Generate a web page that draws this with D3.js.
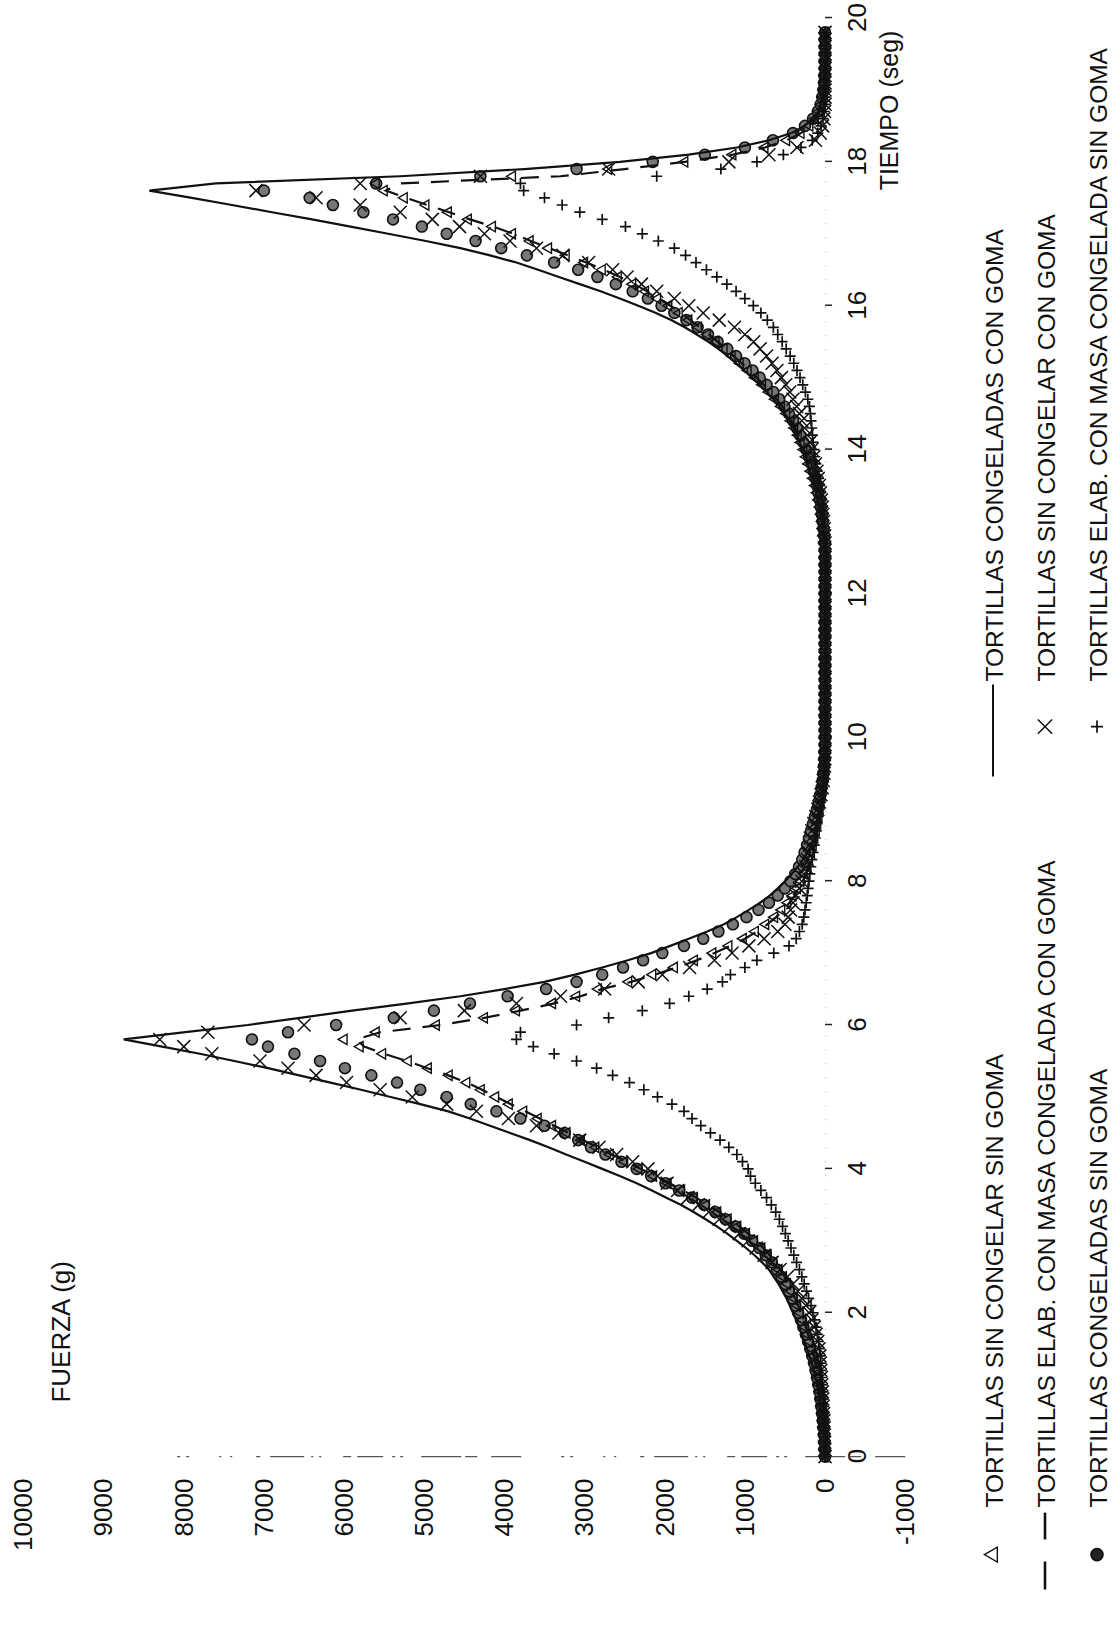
<!DOCTYPE html>
<html>
<head>
<meta charset="utf-8">
<title>Fuerza vs tiempo</title>
<script src="https://cdn.jsdelivr.net/npm/d3@7/dist/d3.min.js"></script>
<style>
  body { margin: 0; background: #fff; }
  svg { display: block; font-family: "Liberation Sans", Arial, sans-serif; }
  text { fill: #111; }
</style>
</head>
<body>
<div id="chart"></div>
<script>
// one reading every 0.1 s, 0 .. 19.8 s
var tiempo = d3.range(199).map(function(i) { return i / 10; });
var tiempoTicks = [0, 2, 4, 6, 8, 10, 12, 14, 16, 18, 20];
var fuerzaTicks = [-1000, 0, 1000, 2000, 3000, 4000, 5000, 6000, 7000, 8000, 9000, 10000];

// solid line
var congeladasConGoma = [
  0, 4, 8, 15, 25, 35, 45, 57, 70, 85,
  100, 120, 140, 165, 195, 225, 260, 290, 325, 360,
  400, 440, 480, 530, 580, 640, 700, 785, 880, 985,
  1100, 1220, 1350, 1490, 1640, 1800, 1980, 2160, 2350, 2560,
  2780, 3000, 3230, 3450, 3680, 3930, 4180, 4430, 4700, 5050,
  5420, 5790, 6170, 6560, 6950, 7370, 7800, 8270, 8750, 7980,
  7200, 6550, 5900, 5200, 4550, 4000, 3500, 3120, 2780, 2460,
  2170, 1930, 1700, 1470, 1260, 1100, 950, 810, 690, 590,
  500, 415, 340, 275, 220, 170, 130, 100, 80, 65,
  50, 40, 30, 25, 20, 15, 10, 8, 5, 3,
  0, 0, 0, 0, 0, 0, 0, 0, 0, 0,
  0, 0, 0, 0, 0, 0, 0, 0, 0, 0,
  0, 0, 0, 0, 0, 0, 0, 10, 20, 30,
  40, 55, 70, 90, 110, 135, 160, 185, 215, 245,
  280, 315, 350, 395, 440, 500, 570, 645, 730, 815,
  910, 1010, 1110, 1215, 1330, 1460, 1600, 1750, 1920, 2110,
  2330, 2560, 2800, 3060, 3320, 3580, 3850, 4180, 4550, 4980,
  5450, 5920, 6400, 6900, 7400, 7900, 8430, 7600, 5300, 3750,
  2560, 1700, 1100, 700, 420, 260, 150, 90, 55, 35,
  20, 15, 10, 5, 0, 0, 0, 0, 0
];

// dashed line
var elabConMasaCongeladaConGoma = [
  0, 3, 6, 10, 16, 23, 31, 40, 50, 61,
  73, 87, 103, 121, 141, 163, 187, 213, 240, 270,
  302, 336, 373, 413, 457, 505, 560, 622, 692, 770,
  860, 960, 1070, 1190, 1320, 1460, 1610, 1770, 1940, 2120,
  2300, 2480, 2660, 2840, 3020, 3200, 3380, 3560, 3740, 3920,
  4100, 4280, 4470, 4700, 4960, 5220, 5500, 5750, 5850, 5550,
  4800, 4250, 3800, 3380, 3050, 2780, 2420, 2120, 1850, 1600,
  1380, 1180, 1000, 850, 720, 610, 520, 445, 380, 325,
  280, 240, 205, 175, 150, 128, 108, 90, 74, 60,
  48, 37, 27, 19, 12, 7, 3, 1, 0, 0,
  0, 0, 0, 0, 0, 0, 0, 0, 0, 0,
  0, 0, 0, 0, 0, 0, 0, 0, 0, 0,
  0, 0, 0, 0, 0, 0, 0, 8, 16, 24,
  33, 45, 59, 76, 96, 118, 143, 170, 200, 230,
  260, 294, 330, 372, 418, 470, 533, 605, 685, 765,
  850, 940, 1040, 1140, 1240, 1340, 1450, 1560, 1680, 1800,
  1930, 2070, 2220, 2380, 2560, 2760, 2980, 3210, 3440, 3670,
  3890, 4140, 4430, 4690, 4960, 5230, 5480, 5300, 3300, 2500,
  1750, 1150, 750, 480, 300, 185, 115, 70, 40, 24,
  13, 6, 2, 0, 0, 0, 0, 0, 0
];

// triangles
var sinCongelarSinGoma = [
  0, 3, 6, 11, 17, 24, 32, 41, 51, 62,
  75, 90, 107, 126, 147, 170, 195, 222, 250, 280,
  312, 347, 385, 425, 470, 520, 575, 640, 710, 790,
  880, 980, 1090, 1210, 1340, 1480, 1630, 1790, 1960, 2140,
  2320, 2500, 2680, 2860, 3040, 3220, 3400, 3580, 3760, 3940,
  4110, 4290, 4470, 4690, 4950, 5200, 5520, 5800, 6000, 5600,
  4850, 4250, 3850, 3400, 3100, 2830, 2450, 2150, 1880, 1630,
  1400, 1200, 1020, 870, 740, 630, 540, 465, 400, 345,
  300, 260, 225, 195, 170, 148, 128, 110, 92, 76,
  62, 50, 38, 28, 20, 13, 8, 4, 1, 0,
  0, 0, 0, 0, 0, 0, 0, 0, 0, 0,
  0, 0, 0, 0, 0, 0, 0, 0, 0, 0,
  0, 0, 0, 0, 0, 0, 0, 10, 18, 26,
  35, 48, 62, 80, 100, 122, 148, 175, 205, 235,
  265, 300, 335, 380, 425, 480, 545, 620, 700, 780,
  870, 960, 1060, 1160, 1260, 1360, 1470, 1580, 1700, 1820,
  1950, 2090, 2240, 2400, 2580, 2780, 3000, 3230, 3450, 3680,
  3900, 4150, 4450, 4700, 4980, 5250, 5500, 5600, 3900, 2700,
  1750, 1150, 750, 480, 300, 190, 120, 75, 45, 27,
  15, 8, 3, 0, 0, 0, 0, 0, 0
];

// circles
var congeladasSinGoma = [
  0, 3, 7, 12, 20, 28, 37, 47, 58, 70,
  85, 100, 118, 138, 160, 185, 212, 240, 270, 300,
  335, 370, 410, 450, 495, 545, 600, 665, 740, 820,
  910, 1010, 1120, 1240, 1370, 1510, 1660, 1820, 1990, 2170,
  2350, 2540, 2740, 2920, 3080, 3250, 3500, 3800, 4100, 4420,
  4720, 5050, 5340, 5660, 5990, 6300, 6620, 6950, 7150, 6700,
  6100, 5380, 4880, 4430, 3960, 3480, 3100, 2780, 2520, 2270,
  2030, 1760, 1520, 1330, 1150, 980, 830, 700, 590, 500,
  430, 370, 325, 285, 255, 225, 200, 175, 150, 125,
  100, 80, 60, 45, 30, 20, 12, 6, 2, 0,
  0, 0, 0, 0, 0, 0, 0, 0, 0, 0,
  0, 0, 0, 0, 0, 0, 0, 0, 0, 0,
  0, 0, 0, 0, 0, 0, 0, 0, 10, 20,
  30, 40, 52, 66, 82, 100, 120, 143, 168, 200,
  235, 270, 310, 352, 398, 450, 508, 572, 645, 730,
  815, 905, 1005, 1110, 1220, 1340, 1460, 1590, 1730, 1880,
  2040, 2210, 2400, 2610, 2840, 3080, 3380, 3720, 4040, 4360,
  4720, 5030, 5390, 5760, 6140, 6430, 7000, 5600, 4300, 3100,
  2150, 1500, 1000, 650, 400, 250, 150, 90, 55, 35,
  20, 12, 6, 0, 0, 0, 0, 0, 0
];

// crosses (x)
var sinCongelarConGoma = [
  0, 2, 4, 7, 10, 14, 18, 23, 28, 34,
  40, 46, 52, 58, 64, 75, 90, 110, 135, 165,
  200, 240, 290, 340, 400, 470, 560, 660, 760, 860,
  960, 1070, 1190, 1320, 1450, 1580, 1710, 1840, 1970, 2090,
  2210, 2400, 2600, 2820, 3060, 3320, 3600, 3950, 4350, 4720,
  5150, 5550, 5970, 6350, 6700, 7050, 7650, 8000, 8300, 7700,
  6500, 5300, 4500, 3850, 3300, 2750, 2330, 2030, 1690, 1380,
  1160, 950, 760, 590, 500, 460, 430, 400, 360, 320,
  290, 265, 240, 220, 205, 195, 185, 165, 140, 115,
  90, 70, 50, 35, 22, 12, 6, 2, 0, 0,
  0, 0, 0, 0, 0, 0, 0, 0, 0, 0,
  0, 0, 0, 0, 0, 0, 0, 0, 0, 0,
  0, 0, 0, 0, 0, 0, 0, 0, 5, 10,
  18, 26, 35, 45, 57, 70, 85, 100, 120, 140,
  165, 190, 220, 255, 290, 320, 355, 400, 440, 490,
  545, 600, 660, 730, 810, 890, 1000, 1130, 1320, 1520,
  1700, 1880, 2100, 2290, 2470, 2650, 2950, 3270, 3600, 3930,
  4250, 4560, 4900, 5300, 5800, 6350, 7100, 5800, 4300, 2700,
  1200, 700, 350, 120, 60, 30, 15, 5, 0, 0,
  0, 0, 0, 0, 0, 0, 0, 0, 0
];

// pluses (+)
var elabConMasaCongeladaSinGoma = [
  0, 1, 3, 5, 8, 11, 15, 19, 24, 29,
  34, 40, 46, 53, 60, 70, 82, 96, 112, 130,
  150, 175, 205, 232, 260, 290, 320, 355, 390, 425,
  460, 495, 530, 570, 615, 670, 730, 800, 870, 930,
  960, 1030, 1100, 1200, 1310, 1430, 1550, 1660, 1760, 1910,
  2090, 2260, 2440, 2650, 2850, 3100, 3380, 3640, 3850, 3800,
  3100, 2700, 2280, 1940, 1700, 1470, 1280, 1180, 1000, 850,
  640, 450, 360, 320, 285, 265, 250, 235, 222, 212,
  200, 190, 178, 165, 150, 135, 122, 110, 100, 85,
  70, 55, 42, 30, 20, 12, 6, 2, 0, 0,
  0, 0, 0, 0, 0, 0, 0, 0, 0, 0,
  0, 0, 0, 0, 0, 0, 0, 0, 0, 0,
  0, 0, 0, 0, 0, 0, 0, 0, 5, 10,
  15, 22, 30, 40, 52, 65, 80, 97, 115, 128,
  138, 148, 157, 166, 175, 184, 195, 215, 245, 278,
  312, 350, 390, 435, 485, 535, 590, 645, 720, 800,
  895, 1000, 1110, 1225, 1350, 1480, 1610, 1740, 1880, 2080,
  2280, 2490, 2780, 3060, 3280, 3500, 3760, 3800, 2100, 1300,
  850, 520, 300, 160, 90, 50, 25, 10, 0, 0,
  0, 0, 0, 0, 0, 0, 0, 0, 0
];

var leyendaTextos = [
  'TORTILLAS SIN CONGELAR SIN GOMA',
  'TORTILLAS ELAB. CON MASA CONGELADA CON GOMA',
  'TORTILLAS CONGELADAS SIN GOMA',
  'TORTILLAS CONGELADAS CON GOMA',
  'TORTILLAS SIN CONGELAR CON GOMA',
  'TORTILLAS ELAB. CON MASA CONGELADA SIN GOMA'
];
var leyendaSimbolos = ['triangle', 'dash', 'circle', 'line', 'cross', 'plus'];

(function(d3) {

  'use strict';

  var Grafica = function(element) {

    this.element = element;
    this.width = 1116;
    this.height = 1636;

    this.svg = null;
    this.plot = null;

    this.x = d3.scaleLinear().domain([0, 20]).range([0, 1438.6]);
    this.y = d3.scaleLinear().domain([-1000, 10000]).range([905.2, 23.5]);
  };

  Grafica.prototype = {

    init: function() {
      this.setSvg();
      this.setAxes();
      this.setMarks();
      this.setLines();
      this.setTitles();
      this.setLegend();
    },

    setSvg: function() {
      this.svg = d3.select(this.element)
        .append('svg')
        .attr('width', this.width)
        .attr('height', this.height);

      this.svg.append('rect')
        .attr('width', this.width)
        .attr('height', this.height)
        .attr('fill', '#fff');

      // the figure is printed sideways: time runs up the page, force to the left
      this.plot = this.svg.append('g')
        .attr('transform', 'translate(0,1456.6) rotate(-90)');
    },

    setAxes: function() {
      var tAxis = this.plot.append('g')
        .attr('transform', 'translate(0,' + this.y(0) + ')')
        .call(d3.axisBottom(this.x)
          .tickValues(tiempoTicks)
          .tickSize(7)
          .tickPadding(16)
          .tickSizeOuter(0));

      tAxis.select('.domain')
        .attr('stroke', '#000')
        .attr('stroke-opacity', 0.3)
        .attr('stroke-dasharray', '1 13');

      var fAxis = this.plot.append('g')
        .call(d3.axisLeft(this.y)
          .tickValues(fuerzaTicks)
          .tickSize(0)
          .tickPadding(22)
          .tickFormat(function(d) { return String(d); }));

      fAxis.select('.domain').remove();

      // the force axis only survives in pieces on the scan
      this.plot.append('line')
        .attr('x1', 0)
        .attr('x2', 0)
        .attr('y1', this.y(-1000))
        .attr('y2', this.y(8200))
        .attr('stroke', '#555')
        .attr('stroke-width', 1.2)
        .attr('stroke-dasharray', '30 14 12 4 40 18 3 5 3 9 26 6 8 22 2 6 2 7 34 10 4 24 2 9 2 30 3 6 3 40');

      [tAxis, fAxis].forEach(function(a) {
        a.selectAll('text')
          .style('font-size', '26px')
          .style('fill', '#111');
        a.selectAll('.tick line')
          .attr('stroke', '#222')
          .attr('stroke-width', 1.5);
      });
    },

    shape: function(kind, scale) {
      var k = scale || 1;
      if (kind === 'triangle') return d3.symbol(d3.symbolTriangle, 46 * k * k)();
      if (kind === 'circle') return d3.symbol(d3.symbolCircle, Math.PI * 30 * k * k)();
      if (kind === 'cross') {
        var a = 6.5 * k;
        return 'M' + (-a) + ',' + (-a) + 'L' + a + ',' + a + 'M' + (-a) + ',' + a + 'L' + a + ',' + (-a);
      }
      var b = 5.5 * k;
      return 'M' + (-b) + ',0H' + b + 'M0,' + (-b) + 'V' + b;
    },

    styleMark: function(sel, kind, legend) {
      sel.attr('stroke', '#111');
      if (kind === 'circle') {
        sel.attr('fill', legend ? '#222' : '#777').attr('stroke-width', 1.6);
      } else if (kind === 'triangle') {
        sel.attr('fill', 'none').attr('stroke-width', 1.4);
      } else {
        sel.attr('fill', 'none').attr('stroke-width', kind === 'plus' ? 1.7 : 1.5);
      }
    },

    setMarks: function() {
      var layers = [
        { values: congeladasSinGoma, kind: 'circle' },
        { values: sinCongelarSinGoma, kind: 'triangle' },
        { values: sinCongelarConGoma, kind: 'cross' },
        { values: elabConMasaCongeladaSinGoma, kind: 'plus' }
      ];

      layers.forEach(function(layer) {
        var marks = this.plot.append('g')
          .selectAll('path')
          .data(layer.values)
          .enter()
          .append('path')
          .attr('transform', function(d, i) {
            return 'translate(' + this.x(tiempo[i]) + ',' + this.y(d) + ')';
          }.bind(this))
          .attr('d', this.shape(layer.kind));

        this.styleMark(marks, layer.kind, false);
      }.bind(this));
    },

    setLines: function() {
      var line = d3.line()
        .x(function(d, i) { return this.x(tiempo[i]); }.bind(this))
        .y(function(d) { return this.y(d); }.bind(this));

      this.plot.append('path')
        .datum(elabConMasaCongeladaConGoma)
        .attr('d', line)
        .attr('fill', 'none')
        .attr('stroke', '#111')
        .attr('stroke-width', 2.2)
        .attr('stroke-dasharray', '18 12');

      this.plot.append('path')
        .datum(congeladasConGoma)
        .attr('d', line)
        .attr('fill', 'none')
        .attr('stroke', '#111')
        .attr('stroke-width', 2.2);
    },

    setTitles: function() {
      this.plot.append('text')
        .attr('x', 54)
        .attr('y', 70)
        .style('font-size', '26px')
        .text('FUERZA (g)');

      this.plot.append('text')
        .attr('x', 1426)
        .attr('y', 898)
        .attr('text-anchor', 'end')
        .style('font-size', '25px')
        .text('TIEMPO (seg)');
    },

    setLegend: function() {
      var symbolU = [-98, 730];
      var textU = [-51, 775];
      var rowV = [1003, 1055, 1107];

      leyendaTextos.forEach(function(label, i) {
        var col = Math.floor(i / 3);
        var v = rowV[i % 3];
        var kind = leyendaSimbolos[i];
        var item = this.plot.append('g');

        if (kind === 'line') {
          item.append('line')
            .attr('x1', 680).attr('x2', 772)
            .attr('y1', v - 10).attr('y2', v - 10)
            .attr('stroke', '#111')
            .attr('stroke-width', 2);
        } else if (kind === 'dash') {
          item.append('line')
            .attr('x1', -133).attr('x2', -56)
            .attr('y1', v - 10).attr('y2', v - 10)
            .attr('stroke', '#111')
            .attr('stroke-width', 2.6)
            .attr('stroke-dasharray', '28 22');
        } else {
          var mark = item.append('path')
            .attr('transform', 'translate(' + symbolU[col] + ',' + (v - 10) + ')')
            .attr('d', this.shape(kind, kind === 'triangle' ? 1.45 : 1.1));
          this.styleMark(mark, kind, true);
        }

        item.append('text')
          .attr('x', textU[col])
          .attr('y', v)
          .style('font-size', '24.5px')
          .text(label);
      }.bind(this));
    }

  };

  var app = new Grafica('#chart');
  app.init();

})(d3);
</script>
</body>
</html>
